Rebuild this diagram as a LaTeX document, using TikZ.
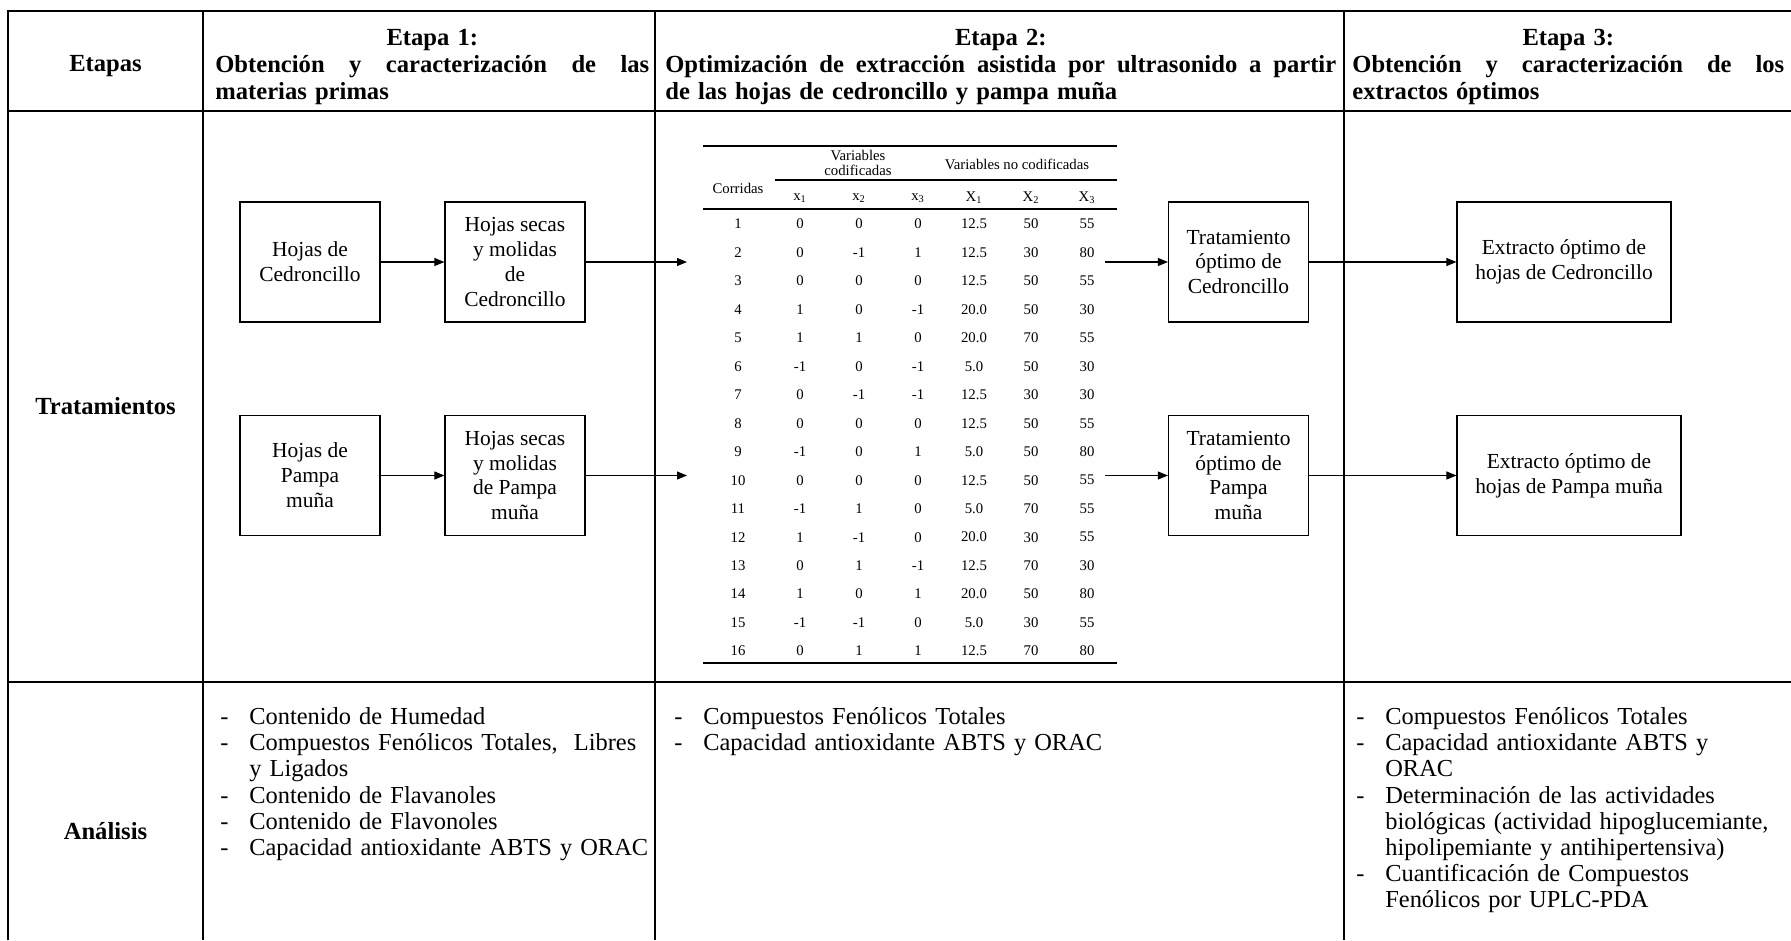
\documentclass[tikz,border=0pt]{standalone}
\usepackage{fontspec}
\setmainfont{Liberation Serif}
\usepackage{tikz}
\usetikzlibrary{positioning,arrows.meta,calc}
\setlength{\parindent}{0pt}

\newlength{\dashind}
\setlength{\dashind}{0.58cm}
\newcommand{\ditem}[1]{\par\hangindent=\dashind\hangafter=1\noindent\hbox to\dashind{-\hfil}#1\par}

\begin{document}
\begin{tikzpicture}[
    x=0.02cm, y=-0.02cm,
    grid/.style={line width=1pt},
    head/.style={anchor=north west, inner sep=0pt, align=left,
        font=\bfseries\fontsize{14}{15.2}\selectfont},
    rowlabel/.style={inner sep=0pt, font=\bfseries\fontsize{14}{15.2}\selectfont},
    box/.style={draw, line width=0.7pt, align=center, minimum width=2.8cm,
        minimum height=2.4cm, inner sep=2pt, font=\fontsize{12.2}{14.2}\selectfont},
    ana/.style={anchor=north west, inner sep=0pt, align=left,
        font=\fontsize{13.9}{14.9}\selectfont},
    cell/.style={inner sep=0pt, font=\fontsize{8.4}{8.5}\selectfont, align=center},
    rule/.style={line width=1.1pt},
    thinrule/.style={line width=0.8pt},
    arrow/.style={-{Triangle[length=0.2cm, width=0.16cm]}, line width=0.6pt}
]
\useasboundingbox (0,0) rectangle (1791,940);

% grid of the table
\draw[grid] (8,940) -- (8,11) -- (1791,11);
\draw[grid] (8,111) -- (1791,111);
\draw[grid] (8,682) -- (1791,682);
\draw[grid] (203,11) -- (203,940);
\draw[grid] (655,11) -- (655,940);
\draw[grid] (1344,11) -- (1344,940);

% header row
\node[rowlabel] (etapas) at (105.5,66) {Etapas};
\node[head, text width=8.68cm] (etapa1) at (215,29)
    {\makebox[\hsize]{Etapa 1:}\newline
     \hbox to\hsize{Obtención\hfill y\hfill caracterización\hfill de\hfill las}\newline
     materias primas};
\node[head, text width=13.42cm] (etapa2) at (665,29)
    {\makebox[\hsize]{Etapa 2:}\newline
     \hbox to\hsize{Optimización\hfill de\hfill extracción\hfill asistida\hfill por\hfill ultrasonido\hfill a\hfill partir}\newline
     de las hojas de cedroncillo y pampa muña};
\node[head, text width=8.64cm] (etapa3) at (1352,29)
    {\makebox[\hsize]{Etapa 3:}\newline
     \hbox to\hsize{Obtención\hfill y\hfill caracterización\hfill de\hfill los}\newline
     extractos óptimos};

\node[rowlabel] (tratam) at (105.5,406) {Tratamientos};
\node[rowlabel] (analis) at (105.5,831) {Análisis};

% etapa 1
\node[box] (hojc)  at (310,262)   {Hojas de\\Cedroncillo};
\node[box] (secc)  at (515,262)   {Hojas secas\\y molidas\\de\\Cedroncillo};
\node[box] (hojp)  at (310,475.5) {Hojas de\\Pampa\\muña};
\node[box] (secp)  at (515,475.5) {Hojas secas\\y molidas\\de Pampa\\muña};

% etapa 2: diseño experimental
\draw[rule] (703,146) -- (1117,146);
\draw[thinrule] (775,180) -- (1117,180);
\draw[rule] (703,209) -- (1117,209);
\draw[rule] (703,663) -- (1117,663);

\node[cell] (corr) at (738,188) {Corridas};
\node[cell] (vcod) at (858,163) {Variables\\codificadas};
\node[cell] (vnoc) at (1017,164) {Variables no codificadas};
\node[cell] (hx1) at (800,198)  {x\textsubscript{1}};
\node[cell] (hx2) at (859,198)  {x\textsubscript{2}};
\node[cell] (hx3) at (918,198)  {x\textsubscript{3}};
\node[cell] (hX1) at (974,198)  {X\textsubscript{1}};
\node[cell] (hX2) at (1031,198) {X\textsubscript{2}};
\node[cell] (hX3) at (1087,198) {X\textsubscript{3}};

\foreach \r/\a/\b/\c/\d/\e/\f [count=\i] in {
    1/0/0/0/12.5/50/55, 2/0/-1/1/12.5/30/80, 3/0/0/0/12.5/50/55,
    4/1/0/-1/20.0/50/30, 5/1/1/0/20.0/70/55, 6/-1/0/-1/5.0/50/30,
    7/0/-1/-1/12.5/30/30, 8/0/0/0/12.5/50/55, 9/-1/0/1/5.0/50/80,
    10/0/0/0/12.5/50/55, 11/-1/1/0/5.0/70/55, 12/1/-1/0/20.0/30/55,
    13/0/1/-1/12.5/70/30, 14/1/0/1/20.0/50/80, 15/-1/-1/0/5.0/30/55,
    16/0/1/1/12.5/70/80} {
  \pgfmathsetmacro\ry{224+(\i-1)*28.47}
  \node[cell] (run\i) at (738,\ry)  {\r};
  \node[cell] (xa\i)  at (800,\ry)  {\a};
  \node[cell] (xb\i)  at (859,\ry)  {\b};
  \node[cell] (xc\i)  at (918,\ry)  {\c};
  \node[cell] (Xa\i)  at (974,\ry)  {\d};
  \node[cell] (Xb\i)  at (1031,\ry) {\e};
  \node[cell] (Xc\i)  at (1087,\ry) {\f};
}

\coordinate (tabin1)  at (687,262);
\coordinate (tabin2)  at (687,475.5);
\coordinate (tabout1) at (1105,262);
\coordinate (tabout2) at (1105,475.5);

% etapa 3
\node[box] (trc) at (1238.5,262)   {Tratamiento\\óptimo de\\Cedroncillo};
\node[box] (trp) at (1238.5,475.5) {Tratamiento\\óptimo de\\Pampa\\muña};
\node[box, minimum width=4.28cm] (exc) at (1564,262)   {Extracto óptimo de\\hojas de Cedroncillo};
\node[box, minimum width=4.48cm] (exp) at (1569,475.5) {Extracto óptimo de\\hojas de Pampa muña};

\draw[arrow] (hojc) -- (secc);
\draw[arrow] (hojp) -- (secp);
\draw[arrow] (secc) -- (tabin1);
\draw[arrow] (secp) -- (tabin2);
\draw[arrow] (tabout1) -- (trc);
\draw[arrow] (tabout2) -- (trp);
\draw[arrow] (trc) -- (exc);
\draw[arrow] (trp) -- (exp);

% analisis
\node[ana, text width=9.4cm] (anal1) at (220,698)
    {\ditem{Contenido de Humedad}
     \ditem{Compuestos Fenólicos Totales,\ \ Libres\newline y Ligados}
     \ditem{Contenido de Flavanoles}
     \ditem{Contenido de Flavonoles}
     \ditem{Capacidad antioxidante ABTS y ORAC}};
\node[ana, text width=9.4cm] (anal2) at (674,698)
    {\ditem{Compuestos Fenólicos Totales}
     \ditem{Capacidad antioxidante ABTS y ORAC}};
\node[ana, text width=8.6cm] (anal3) at (1356,698)
    {\ditem{Compuestos Fenólicos Totales}
     \ditem{Capacidad antioxidante ABTS y\newline ORAC}
     \ditem{Determinación de las actividades\newline biológicas (actividad hipoglucemiante,\newline hipolipemiante y antihipertensiva)}
     \ditem{Cuantificación de Compuestos\newline Fenólicos por UPLC-PDA}};
\end{tikzpicture}
\end{document}
